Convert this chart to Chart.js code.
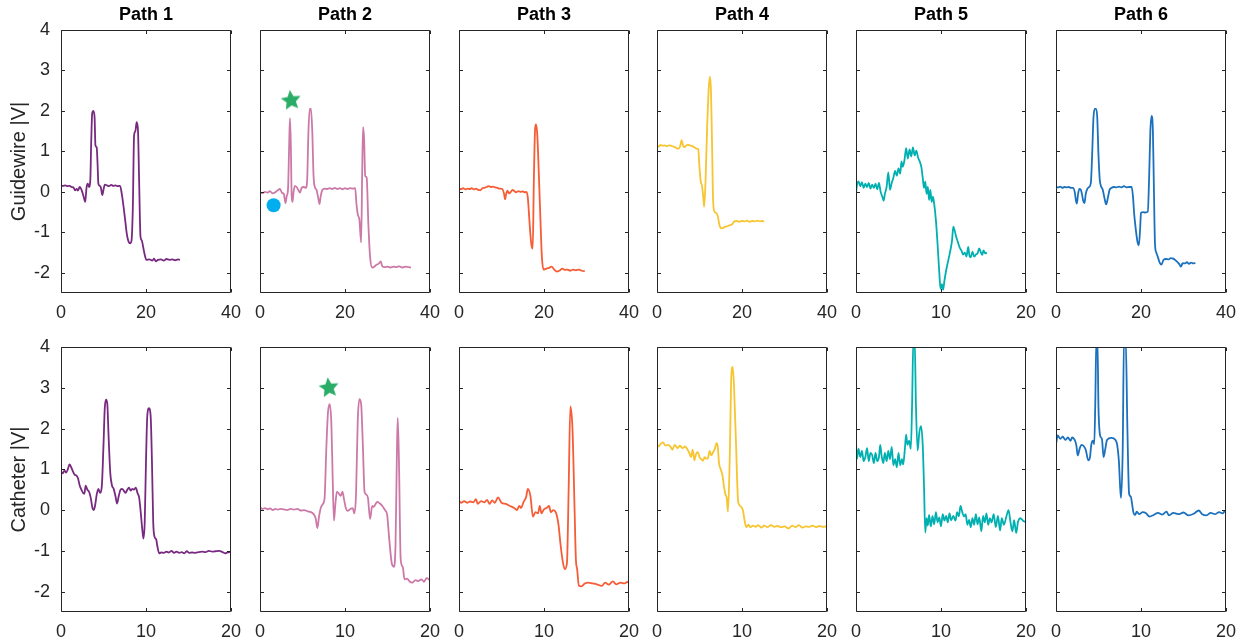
<!DOCTYPE html>
<html>
<head>
<meta charset="utf-8">
<script src="https://cdn.jsdelivr.net/npm/chart.js@4.4.0/dist/chart.umd.min.js"></script>
<style>
  html, body { margin: 0; padding: 0; background: #fff; }
  #wrap { position: relative; width: 1245px; height: 640px; overflow: hidden; }
  #wrap canvas { position: absolute; }
</style>
</head>
<body>
<div id="wrap"></div>
<script>
// ---- data: [time, |V|] pairs ----
const gw1 = [[0,0.16],[0.5,0.15],[1,0.16],[1.5,0.14],[2,0.15],[2.5,0.12],[3,0.1],[3.3,0.04],[3.7,0.07],[4,0.03],[4.4,0.12],[4.7,0.08],[5,0],[5.4,-0.15],[5.7,-0.25],[6,0.1],[6.3,0.2],[6.6,0.12],[6.9,0.3],[7.1,1.2],[7.35,1.95],[7.6,2],[7.9,1.85],[8.1,1.15],[8.4,1.1],[8.6,0.7],[8.8,0.2],[9.1,0.15],[9.4,0.1],[9.7,-0.08],[10,0.05],[10.3,0.18],[10.8,0.16],[11.3,0.14],[11.8,0.17],[12.3,0.15],[12.8,0.16],[13.3,0.14],[13.9,0.15],[14.3,-0.05],[14.7,-0.35],[15.1,-0.7],[15.5,-1.05],[15.9,-1.23],[16.3,-1.27],[16.6,-1.2],[16.9,-0.4],[17.2,1.4],[17.5,1.5],[17.8,1.72],[18.1,1.55],[18.4,0.2],[18.7,-1.1],[19,-1.2],[19.4,-1.4],[19.8,-1.6],[20.1,-1.68],[20.8,-1.67],[21.5,-1.7],[21.9,-1.65],[22.3,-1.72],[22.8,-1.68],[23.5,-1.67],[24.2,-1.7],[24.8,-1.66],[25.5,-1.68],[26.2,-1.67],[26.9,-1.69],[27.5,-1.67],[28,-1.68]];
const gw2 = [[0,-0.02],[0.6,-0.03],[1.2,0],[1.8,-0.02],[2.3,0.02],[3,-0.04],[3.6,-0.01],[4.2,0.04],[4.7,0.07],[5.2,-0.03],[5.6,-0.05],[6,-0.28],[6.3,-0.1],[6.6,0.08],[6.85,1.1],[7.05,1.82],[7.25,1.2],[7.45,-0.1],[7.65,-0.25],[7.9,0],[8.2,0.15],[8.6,0.12],[9,0.05],[9.4,-0.02],[9.8,0.1],[10.3,0.12],[10.8,0.1],[11.1,0.3],[11.4,1.5],[11.7,2.05],[12,2.05],[12.3,1.5],[12.6,0.4],[12.9,0.12],[13.3,0.05],[13.7,-0.15],[14,-0.3],[14.3,-0.1],[14.7,0.05],[15.2,0.08],[15.8,0.07],[16.4,0.09],[17,0.07],[17.6,0.1],[18.2,0.07],[18.8,0.09],[19.4,0.06],[20,0.09],[20.6,0.07],[21.2,0.09],[21.8,0.08],[22.4,0.09],[22.7,-0.3],[23,-0.55],[23.4,-0.7],[23.8,-1.25],[24.05,0.5],[24.25,1.6],[24.5,1.3],[24.75,0.4],[25.1,0.35],[25.5,-0.8],[25.9,-1.6],[26.4,-1.87],[26.9,-1.85],[27.4,-1.8],[27.9,-1.78],[28.4,-1.72],[28.8,-1.84],[29.3,-1.86],[30,-1.85],[30.7,-1.87],[31.4,-1.85],[32.1,-1.86],[32.8,-1.84],[33.5,-1.87],[34.2,-1.85],[34.9,-1.86],[35.5,-1.87]];
const gw3 = [[0,0.08],[0.5,0.07],[1,0.09],[1.5,0.06],[2,0.08],[2.5,0.07],[3,0.09],[3.5,0.06],[4,0.08],[4.5,0.05],[5,0.04],[5.5,0.09],[6,0.1],[6.5,0.12],[7,0.14],[7.5,0.12],[8,0.13],[8.5,0.11],[9,0.1],[9.5,0.08],[10.2,0.07],[10.6,-0.05],[10.85,-0.18],[11.1,-0.05],[11.4,0.03],[11.8,-0.04],[12.2,0],[12.6,0.05],[13,0.02],[13.5,-0.01],[14,0.02],[14.5,0],[15,0.01],[15.5,-0.01],[15.9,0],[16.2,-0.15],[16.5,-0.6],[16.8,-1.05],[17.1,-1.35],[17.35,-1.4],[17.6,0.2],[17.9,1.55],[18.1,1.67],[18.4,1.45],[18.8,0.4],[19.2,-0.8],[19.5,-1.6],[19.9,-1.92],[20.5,-1.9],[21.2,-1.88],[21.8,-1.85],[22.4,-1.92],[23,-1.97],[23.6,-1.95],[24.3,-1.9],[24.9,-1.93],[25.5,-1.92],[26.2,-1.95],[26.8,-1.92],[27.5,-1.94],[28.2,-1.92],[28.9,-1.95],[29.6,-1.96]];
const gw4 = [[0,1.14],[0.4,1.12],[0.8,1.16],[1.3,1.14],[1.8,1.15],[2.3,1.13],[2.8,1.15],[3.3,1.14],[3.8,1.12],[4.3,1.1],[4.8,1.07],[5.2,1.08],[5.5,1.15],[5.8,1.28],[6.1,1.15],[6.4,1.1],[6.8,1.14],[7.3,1.16],[7.8,1.15],[8.3,1.13],[8.8,1.1],[9.3,1.07],[9.7,1.05],[10,0.6],[10.3,0.25],[10.6,0.15],[10.9,-0.15],[11.1,-0.37],[11.4,0.2],[11.8,1.6],[12.2,2.6],[12.45,2.85],[12.7,2.5],[12.95,1.2],[13.2,-0.2],[13.5,-0.48],[13.9,-0.52],[14.3,-0.6],[14.7,-0.82],[15.1,-0.9],[15.6,-0.89],[16.1,-0.86],[16.6,-0.85],[17.2,-0.82],[17.7,-0.8],[18.2,-0.73],[18.8,-0.72],[19.4,-0.74],[20,-0.72],[20.6,-0.73],[21.2,-0.71],[21.8,-0.74],[22.4,-0.72],[23,-0.73],[23.6,-0.71],[24.2,-0.73],[24.8,-0.72],[25.2,-0.74]];
const gw5 = [[0,-0.04],[0.1,0.15],[0.3,0.26],[0.5,0.14],[0.7,0.24],[0.9,0.1],[1.1,0.2],[1.3,0.12],[1.5,0.22],[1.7,0.08],[1.9,0.18],[2.1,0.1],[2.3,0.2],[2.5,0.06],[2.7,0.22],[2.9,0],[3.1,-0.12],[3.25,-0.22],[3.4,-0.05],[3.6,0.12],[3.8,0.48],[4,0.05],[4.2,0.22],[4.4,0.35],[4.6,0.52],[4.8,0.4],[5,0.58],[5.2,0.45],[5.35,0.75],[5.5,0.62],[5.7,0.78],[5.9,1.08],[6.1,0.82],[6.3,1.05],[6.5,0.88],[6.7,1.1],[6.9,0.9],[7.1,1.02],[7.3,0.85],[7.5,0.75],[7.7,0.6],[7.85,0.35],[8,0.1],[8.15,0.25],[8.3,-0.05],[8.45,0.12],[8.6,-0.2],[8.75,0.05],[8.9,-0.25],[9.05,-0.12],[9.2,-0.3],[9.4,-0.7],[9.6,-1.3],[9.8,-2],[9.95,-2.4],[10.1,-2.28],[10.25,-2.42],[10.4,-2.2],[10.6,-1.95],[10.8,-1.75],[10.95,-1.6],[11.1,-1.45],[11.3,-1.2],[11.45,-0.86],[11.6,-0.95],[11.8,-1.12],[12,-1.25],[12.2,-1.38],[12.4,-1.45],[12.6,-1.55],[12.8,-1.5],[13,-1.6],[13.2,-1.36],[13.35,-1.58],[13.5,-1.62],[13.7,-1.48],[13.9,-1.6],[14.1,-1.55],[14.3,-1.52],[14.5,-1.4],[14.7,-1.5],[14.85,-1.56],[15,-1.45],[15.2,-1.52],[15.4,-1.5]];
const gw6 = [[0,0.12],[0.5,0.11],[1,0.13],[1.5,0.1],[2,0.12],[2.5,0.11],[3,0.12],[3.5,0.1],[4,0.1],[4.4,0],[4.7,-0.22],[4.9,-0.29],[5.2,-0.05],[5.5,0.07],[5.8,0.06],[6.1,-0.05],[6.4,-0.22],[6.7,-0.28],[7,-0.05],[7.4,0.08],[7.8,0.12],[8.2,0.22],[8.5,0.9],[8.8,1.8],[9.1,2.05],[9.4,2.05],[9.7,1.85],[10,0.9],[10.3,0.3],[10.6,0.14],[11,0.05],[11.4,-0.15],[11.8,-0.31],[12.2,-0.15],[12.6,0.05],[13.1,0.1],[13.6,0.12],[14.2,0.11],[14.8,0.13],[15.4,0.11],[16,0.14],[16.6,0.11],[17.2,0.12],[17.8,0.12],[18.1,-0.1],[18.4,-0.55],[18.8,-0.95],[19.2,-1.25],[19.5,-1.32],[19.8,-0.9],[20,-0.52],[20.5,-0.5],[21,-0.51],[21.6,-0.49],[21.9,0.3],[22.2,1.5],[22.5,1.88],[22.8,1.5],[23.05,0],[23.3,-1.3],[23.6,-1.5],[24,-1.62],[24.4,-1.75],[24.8,-1.8],[25.3,-1.68],[25.9,-1.66],[26.5,-1.67],[27,-1.64],[27.6,-1.65],[28.2,-1.7],[28.7,-1.75],[29.1,-1.8],[29.4,-1.85],[29.8,-1.76],[30.3,-1.77],[30.8,-1.74],[31.3,-1.78],[31.8,-1.75],[32.3,-1.77],[32.8,-1.76]];

const ca1 = [[0,0.95],[0.2,0.9],[0.4,0.97],[0.6,0.92],[0.8,1],[1,1.12],[1.2,1.05],[1.4,0.95],[1.6,0.87],[1.8,0.85],[2,0.78],[2.2,0.6],[2.4,0.5],[2.6,0.42],[2.75,0.4],[2.9,0.6],[3.1,0.5],[3.3,0.45],[3.5,0.3],[3.7,0.05],[3.85,0],[4,0.1],[4.2,0.38],[4.4,0.52],[4.6,0.42],[4.8,0.58],[5,1.6],[5.15,2.5],[5.3,2.71],[5.45,2.6],[5.6,1.8],[5.8,0.9],[6,0.6],[6.2,0.52],[6.4,0.35],[6.6,0.16],[6.8,0.35],[7,0.5],[7.2,0.52],[7.4,0.47],[7.6,0.42],[7.8,0.5],[8,0.55],[8.2,0.48],[8.4,0.52],[8.6,0.5],[8.8,0.55],[9,0.42],[9.2,0.3],[9.4,-0.1],[9.55,-0.45],[9.7,-0.7],[9.85,-0.3],[10,1.2],[10.15,2.3],[10.35,2.5],[10.55,2.3],[10.7,1.2],[10.85,-0.3],[11,-0.65],[11.2,-0.72],[11.35,-0.9],[11.55,-1.06],[11.8,-1.04],[12.1,-1.05],[12.4,-1.02],[12.7,-1.04],[13,-1],[13.3,-1.05],[13.6,-1.02],[13.9,-1.05],[14.2,-1.03],[14.5,-1.06],[14.8,-1.01],[15.1,-1.05],[15.4,-1.04],[15.8,-1.05],[16.2,-1.03],[16.6,-1.02],[17,-1.03],[17.4,-1],[17.8,-1.02],[18.2,-1.01],[18.6,-1],[19,-1.03],[19.3,-1.06],[19.6,-1.04],[20,-1.03]];
const ca2 = [[0,0.06],[0.3,0.03],[0.6,0.05],[0.9,0.02],[1.2,0.04],[1.5,0],[1.8,0.03],[2.1,0.01],[2.4,0.03],[2.8,0.02],[3.2,0],[3.6,0.03],[4,0.01],[4.4,0.03],[4.8,-0.01],[5.2,0],[5.6,-0.03],[6,-0.05],[6.3,-0.1],[6.55,-0.2],[6.75,-0.44],[6.95,-0.15],[7.15,0.05],[7.4,0.15],[7.6,0.3],[7.8,1.5],[8,2.4],[8.2,2.6],[8.4,2.1],[8.55,0.8],[8.7,-0.26],[8.85,0.1],[9.05,0.45],[9.3,0.4],[9.5,0.35],[9.7,0.45],[9.9,0.25],[10.1,0.05],[10.3,-0.02],[10.6,0.02],[10.9,0.05],[11.1,-0.08],[11.3,0.4],[11.5,2.2],[11.7,2.72],[11.9,2.6],[12.1,1.6],[12.3,0.45],[12.5,0.38],[12.7,0.3],[12.95,-0.22],[13.2,0.1],[13.4,0.08],[13.6,0.15],[13.8,0.2],[14.1,0.16],[14.4,0.1],[14.7,0],[14.95,-0.1],[15.2,-0.7],[15.5,-1.3],[15.75,-1.39],[15.95,-0.8],[16.1,1.3],[16.2,2.26],[16.35,1.2],[16.55,-1.2],[16.8,-1.4],[17,-1.7],[17.3,-1.68],[17.6,-1.75],[17.9,-1.78],[18.3,-1.72],[18.6,-1.74],[19,-1.7],[19.3,-1.76],[19.6,-1.67],[20,-1.72]];
const ca3 = [[0,0.22],[0.3,0.18],[0.6,0.22],[1,0.18],[1.3,0.21],[1.7,0.19],[2,0.27],[2.2,0.15],[2.6,0.22],[3,0.19],[3.3,0.25],[3.6,0.15],[3.9,0.24],[4.2,0.18],[4.6,0.31],[5,0.18],[5.5,0.15],[6,0.1],[6.5,0.05],[6.8,0],[7.1,0.1],[7.3,0.05],[7.6,0.2],[7.9,0.32],[8.1,0.52],[8.4,0.35],[8.7,-0.16],[9,-0.05],[9.3,-0.08],[9.5,0.1],[9.7,-0.08],[10,0.02],[10.3,0.05],[10.6,0.1],[10.8,-0.05],[11.1,0],[11.4,-0.06],[11.7,-0.35],[11.95,-0.85],[12.2,-1.25],[12.45,-1.45],[12.7,-1.3],[12.9,0.5],[13.1,2.54],[13.35,2],[13.6,0],[13.75,-1.2],[13.9,-1.45],[14.1,-1.85],[14.4,-1.87],[14.8,-1.8],[15.2,-1.78],[15.7,-1.8],[16.2,-1.82],[16.8,-1.86],[17.2,-1.78],[17.6,-1.83],[18.1,-1.75],[18.5,-1.82],[19,-1.78],[19.5,-1.8],[19.8,-1.76],[20,-1.8]];
const ca4 = [[0,1.6],[0.2,1.56],[0.4,1.62],[0.7,1.66],[1,1.58],[1.3,1.6],[1.6,1.55],[1.8,1.48],[2.1,1.6],[2.4,1.52],[2.7,1.58],[3,1.52],[3.3,1.56],[3.6,1.48],[3.8,1.4],[4,1.3],[4.2,1.48],[4.4,1.22],[4.6,1.38],[4.8,1.42],[5,1.3],[5.2,1.25],[5.4,1.21],[5.6,1.3],[5.8,1.26],[6,1.28],[6.2,1.45],[6.4,1.34],[6.6,1.42],[6.8,1.5],[7,1.64],[7.15,1.55],[7.3,1.15],[7.5,1],[7.7,0.85],[7.9,0.55],[8.05,0.38],[8.2,0.3],[8.35,-0.04],[8.55,1.2],[8.75,3.3],[8.9,3.51],[9.05,3.1],[9.3,1.6],[9.55,0.2],[9.8,0.1],[10.1,0],[10.3,-0.25],[10.5,-0.42],[10.75,-0.36],[11,-0.42],[11.3,-0.38],[11.6,-0.41],[11.9,-0.37],[12.3,-0.43],[12.6,-0.38],[13,-0.42],[13.4,-0.37],[13.8,-0.41],[14.2,-0.39],[14.6,-0.42],[15,-0.4],[15.5,-0.45],[15.9,-0.38],[16.3,-0.42],[16.7,-0.37],[17.1,-0.43],[17.5,-0.4],[17.9,-0.41],[18.3,-0.38],[18.7,-0.42],[19.1,-0.39],[19.5,-0.41],[19.8,-0.4],[20,-0.45]];
const ca5 = [[0,1.7],[0.1,1.25],[0.3,1.5],[0.5,1.3],[0.7,1.45],[0.9,1.2],[1.1,1.3],[1.3,1.52],[1.5,1.2],[1.7,1.4],[1.9,1.35],[2.1,1.15],[2.3,1.4],[2.5,1.2],[2.7,1.3],[2.85,1.6],[3,1.35],[3.2,1.15],[3.4,1.4],[3.6,1.2],[3.8,1.45],[4,1.25],[4.2,1.55],[4.4,1.1],[4.6,1.25],[4.8,1.05],[5,1.4],[5.2,1.1],[5.4,1.25],[5.55,1.12],[5.75,1.5],[5.9,1.85],[6.05,1.6],[6.25,1.7],[6.45,1.5],[6.6,2.6],[6.75,4.2],[6.9,4.2],[7.05,2.6],[7.25,1.46],[7.45,1.9],[7.65,2.06],[7.85,1.6],[8,0.6],[8.15,-0.55],[8.3,-0.2],[8.45,-0.38],[8.6,-0.12],[8.8,-0.4],[9,-0.15],[9.2,-0.35],[9.4,-0.05],[9.6,-0.3],[9.8,-0.18],[10,-0.4],[10.2,-0.1],[10.4,-0.26],[10.6,-0.14],[10.8,-0.3],[11,-0.08],[11.2,-0.25],[11.45,-0.14],[11.7,-0.26],[11.9,-0.05],[12.1,-0.15],[12.3,0.1],[12.5,-0.05],[12.7,-0.16],[12.9,-0.1],[13.1,-0.36],[13.3,-0.24],[13.5,-0.42],[13.7,-0.2],[13.9,-0.36],[14.1,-0.1],[14.3,-0.35],[14.5,-0.18],[14.75,-0.52],[14.95,-0.14],[15.15,-0.3],[15.35,-0.08],[15.55,-0.36],[15.75,-0.2],[15.95,-0.3],[16.2,-0.1],[16.45,-0.42],[16.7,-0.14],[16.95,-0.5],[17.15,-0.2],[17.4,-0.36],[17.7,-0.15],[17.95,0],[18.15,-0.26],[18.4,-0.52],[18.6,-0.25],[18.85,-0.56],[19.05,-0.3],[19.35,-0.2],[19.65,-0.26],[20,-0.3]];
const ca6 = [[0,1.62],[0.2,1.83],[0.5,1.75],[0.8,1.8],[1.1,1.72],[1.4,1.78],[1.7,1.7],[1.9,1.78],[2.2,1.72],[2.4,1.58],[2.55,1.34],[2.8,1.52],[3,1.6],[3.3,1.56],[3.5,1.48],[3.8,1.22],[4,1.3],[4.15,1.6],[4.35,1.7],[4.5,1.62],[4.62,2.6],[4.75,4.2],[4.87,4.2],[5,2.5],[5.2,1.82],[5.4,1.75],[5.6,1.3],[5.8,1.5],[6,1.72],[6.5,1.77],[7,1.72],[7.2,1.6],[7.4,1.2],[7.55,0.55],[7.65,0.3],[7.85,1.5],[8,4.2],[8.2,4.2],[8.4,2],[8.6,0.4],[8.8,0.33],[8.95,0.15],[9.1,-0.05],[9.3,-0.12],[9.5,-0.04],[9.8,-0.1],[10.2,-0.05],[10.6,-0.08],[11,-0.16],[11.5,-0.12],[12,-0.07],[12.5,-0.11],[13,-0.04],[13.3,-0.13],[13.8,-0.07],[14.5,-0.1],[15,-0.06],[15.6,-0.13],[16.2,-0.09],[16.8,-0.01],[17.2,-0.1],[17.7,-0.13],[18.2,-0.07],[18.7,-0.1],[19.2,-0.05],[19.6,-0.08],[19.9,-0.02],[20,-0.04]];

// markers in the Path 2 panels
const gw2Circle = [[3.2, -0.33]];
const gw2Star = [[7.3, 2.26]];
const ca2Star = [[8.1, 3.0]];

const pathNames = ['Path 1', 'Path 2', 'Path 3', 'Path 4', 'Path 5', 'Path 6'];
const rowLabels = ['Guidewire |V|', 'Catheter |V|'];
const yTicks = [-2, -1, 0, 1, 2, 3, 4];
const xTicksTop = [[0,20,40],[0,20,40],[0,20,40],[0,20,40],[0,10,20],[0,20,40]];
const xTicksBottom = [[0,10,20],[0,10,20],[0,10,20],[0,10,20],[0,10,20],[0,10,20]];
const guidewire = [gw1, gw2, gw3, gw4, gw5, gw6];
const catheter = [ca1, ca2, ca3, ca4, ca5, ca6];

const pathColors = ['#772a80', '#cc79a7', '#f65c35', '#f7c530', '#00b0b0', '#1b71bd'];
const FONT = '"Liberation Sans", Arial, Helvetica, sans-serif';
const INK = '#262626';

// layout of the plot boxes (px)
const colLefts = [61, 260, 459, 657, 856, 1056];
const plotW = 173;

const toXY = pts => pts.map(p => ({ x: p[0], y: p[1] }));

function starImage(size, color) {
  const c = document.createElement('canvas');
  c.width = c.height = size;
  const g = c.getContext('2d');
  const r = size / 2 - 0.5, ri = r * 0.47, rot = -0.12;
  g.beginPath();
  for (let i = 0; i < 10; i++) {
    const a = -Math.PI / 2 + rot + i * Math.PI / 5;
    const rr = i % 2 ? ri : r;
    g.lineTo(size / 2 + rr * Math.cos(a), size / 2 + rr * Math.sin(a));
  }
  g.closePath();
  g.fillStyle = color;
  g.fill();
  return c;
}
const star = starImage(22, '#2aae67');

// MATLAB style box with inward ticks on all four sides
const boxPlugin = {
  id: 'box',
  afterDatasetsDraw(chart) {
    const { ctx, chartArea: a, scales: { x, y } } = chart;
    const L = Math.round(a.left) + 0.5, R = Math.round(a.right) - 0.5;
    const T = Math.round(a.top) + 0.5, B = Math.round(a.bottom) - 0.5;
    const tl = 3.5;
    ctx.save();
    ctx.strokeStyle = INK;
    ctx.lineWidth = 1;
    ctx.beginPath();
    ctx.rect(L, T, R - L, B - T);
    x.ticks.forEach(t => {
      const px = Math.round(x.getPixelForValue(t.value)) + 0.5;
      ctx.moveTo(px, B); ctx.lineTo(px, B - tl);
      ctx.moveTo(px, T); ctx.lineTo(px, T + tl);
    });
    y.ticks.forEach(t => {
      const py = Math.round(y.getPixelForValue(t.value)) + 0.5;
      ctx.moveTo(L, py); ctx.lineTo(L + tl, py);
      ctx.moveTo(R, py); ctx.lineTo(R - tl, py);
    });
    ctx.stroke();
    ctx.restore();
  }
};

const wrap = document.getElementById('wrap');

function panel(row, col) {
  const padL = col === 0 ? 61 : 20, padR = 16;
  const w = padL + plotW + padR, h = 320;
  const cv = document.createElement('canvas');
  cv.width = w; cv.height = h;
  cv.style.left = (colLefts[col] - padL) + 'px';
  cv.style.top = (row * 320) + 'px';
  cv.style.width = w + 'px';
  cv.style.height = h + 'px';
  wrap.appendChild(cv);

  const series = row === 0 ? guidewire[col] : catheter[col];
  const xTicks = row === 0 ? xTicksTop[col] : xTicksBottom[col];

  const datasets = [];
  if (col === 1) {
    if (row === 0) {
      datasets.push({ data: toXY(gw2Circle), showLine: false, pointRadius: 7, pointBackgroundColor: '#00aeef', pointBorderWidth: 0, order: 0 });
      datasets.push({ data: toXY(gw2Star), showLine: false, pointStyle: star, order: 0 });
    } else {
      datasets.push({ data: toXY(ca2Star), showLine: false, pointStyle: star, order: 0 });
    }
  }
  datasets.push({
    data: toXY(series),
    borderColor: pathColors[col],
    borderWidth: 1.8,
    pointRadius: 0,
    fill: false,
    cubicInterpolationMode: 'monotone',
    order: 1
  });

  new Chart(cv, {
    type: 'line',
    data: { datasets },
    options: {
      responsive: false,
      animation: false,
      events: [],
      layout: { padding: { left: 0, right: padR, top: row === 0 ? 0 : 27, bottom: 0 } },
      plugins: {
        legend: { display: false },
        tooltip: { enabled: false },
        title: {
          display: row === 0,
          text: pathNames[col],
          fullSize: false,
          color: '#000',
          font: { family: FONT, size: 18, weight: 'bold' },
          padding: { top: 4, bottom: 4.4 }
        }
      },
      scales: {
        x: {
          type: 'linear',
          min: 0,
          max: xTicks[xTicks.length - 1],
          afterBuildTicks: s => { s.ticks = xTicks.map(v => ({ value: v })); },
          afterFit: s => { s.height = row === 0 ? 27 : 28; },
          grid: { display: false, drawTicks: false },
          border: { display: false },
          ticks: { padding: 9, maxRotation: 0, autoSkip: false, color: INK, font: { family: FONT, size: 18 } }
        },
        y: {
          type: 'linear',
          min: -2.5,
          max: 4,
          afterBuildTicks: s => { s.ticks = yTicks.map(v => ({ value: v })); },
          afterFit: s => { s.width = padL; },
          grid: { display: false, drawTicks: false },
          border: { display: false },
          ticks: { display: col === 0, padding: 11, color: INK, font: { family: FONT, size: 18 } },
          title: {
            display: col === 0,
            text: rowLabels[row],
            color: INK,
            font: { family: FONT, size: 20 },
            padding: { top: 7, bottom: 0 }
          }
        }
      }
    },
    plugins: [boxPlugin]
  });
}

for (let r = 0; r < 2; r++) {
  for (let c = 0; c < 6; c++) panel(r, c);
}
</script>
</body>
</html>
